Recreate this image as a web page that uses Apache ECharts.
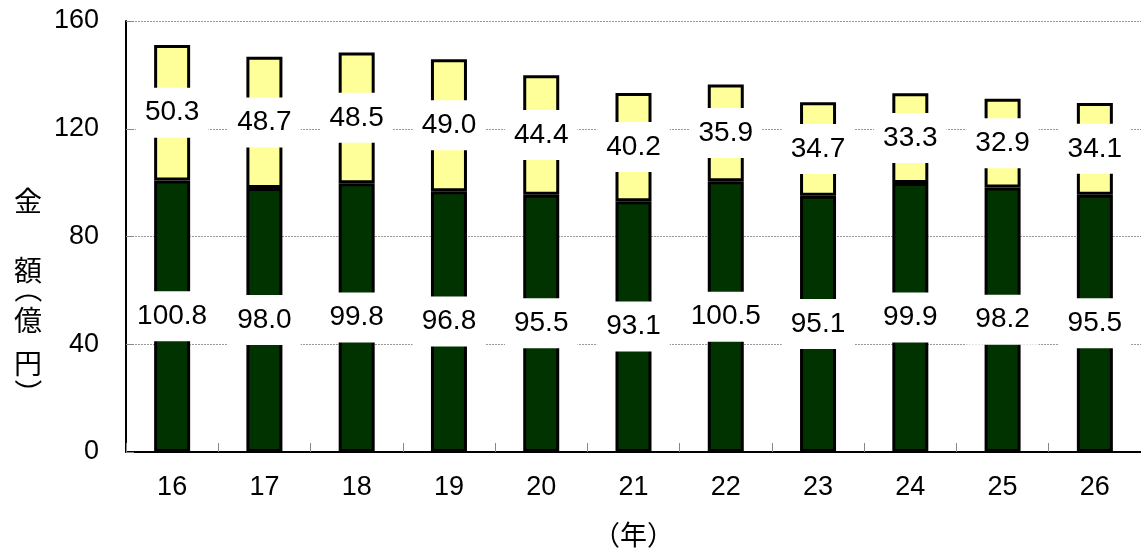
<!DOCTYPE html>
<html>
<head>
<meta charset="utf-8">
<script src="https://cdn.jsdelivr.net/npm/echarts@6/dist/echarts.min.js"></script>
<style>
html,body{margin:0;padding:0;background:#fff;}
#chart{width:1141px;height:553px;}
</style>
</head>
<body>
<div id="chart"></div>
<script>
var categories = ['16','17','18','19','20','21','22','23','24','25','26'];
var lowerValues = [100.8, 98.0, 99.8, 96.8, 95.5, 93.1, 100.5, 95.1, 99.9, 98.2, 95.5];
var upperValues = [50.3, 48.7, 48.5, 49.0, 44.4, 40.2, 35.9, 34.7, 33.3, 32.9, 34.1];
var yTicks = [0, 40, 80, 120, 160];
var yAxisTitle = ['金', '額', '（', '億', '円', '）'];

var FONT = '"Liberation Sans", Arial, "Noto Sans CJK JP", sans-serif';
var CJK = '"Noto Sans CJK JP", sans-serif';
var chart = echarts.init(document.getElementById('chart'));

var labelStyle = {
  show: true,
  position: 'inside',
  color: '#000',
  fontFamily: FONT,
  fontSize: 28,
  lineHeight: 28,
  backgroundColor: '#fff',
  padding: [11, 9],
  formatter: function (p) { return p.value.toFixed(1); }
};

// vertical title layout: centres of each glyph (parentheses rotated for vertical writing)
var titleY = [201, 270, 289, 320, 363, 393];
var titleGraphics = yAxisTitle.map(function (ch, i) {
  var isParen = (ch === '（' || ch === '）');
  return {
    type: 'text',
    x: 28,
    y: titleY[i],
    rotation: isParen ? -Math.PI / 2 : 0,
    style: {
      text: ch,
      x: 0, y: 0,
      align: 'center',
      verticalAlign: 'middle',
      fontFamily: CJK,
      fontSize: 28,
      fill: '#000'
    }
  };
});

chart.setOption({
  animation: false,
  backgroundColor: '#fff',
  grid: { left: 126, top: 21, width: 1023, height: 432, containLabel: false },
  xAxis: {
    type: 'category',
    data: categories,
    name: '（年）',
    nameLocation: 'middle',
    nameGap: 69,
    nameTextStyle: { fontFamily: CJK, fontSize: 27, color: '#000' },
    axisLine: { lineStyle: { color: '#000', width: 2 } },
    axisTick: { show: true, inside: true, length: 9, lineStyle: { color: '#888', width: 1 } },
    axisLabel: { color: '#000', fontFamily: FONT, fontSize: 27, margin: 22 }
  },
  yAxis: {
    type: 'value',
    min: yTicks[0],
    max: yTicks[yTicks.length - 1],
    interval: 40,
    axisLine: { show: true, lineStyle: { color: '#000', width: 2 } },
    axisTick: { show: true, inside: true, length: 8, lineStyle: { color: '#888', width: 1 } },
    axisLabel: { color: '#000', fontFamily: FONT, fontSize: 27, margin: 27 },
    splitLine: { show: true, lineStyle: { color: '#999', width: 1, type: [2, 1] } }
  },
  graphic: titleGraphics,
  series: [
    {
      name: 'lower',
      type: 'bar',
      stack: 'total',
      barWidth: 36,
      data: lowerValues,
      itemStyle: { color: '#003300', borderColor: '#000', borderWidth: 3 },
      label: labelStyle
    },
    {
      name: 'upper',
      type: 'bar',
      stack: 'total',
      barWidth: 36,
      data: upperValues,
      itemStyle: { color: '#FFFF99', borderColor: '#000', borderWidth: 3 },
      label: labelStyle
    }
  ]
});
</script>
</body>
</html>
